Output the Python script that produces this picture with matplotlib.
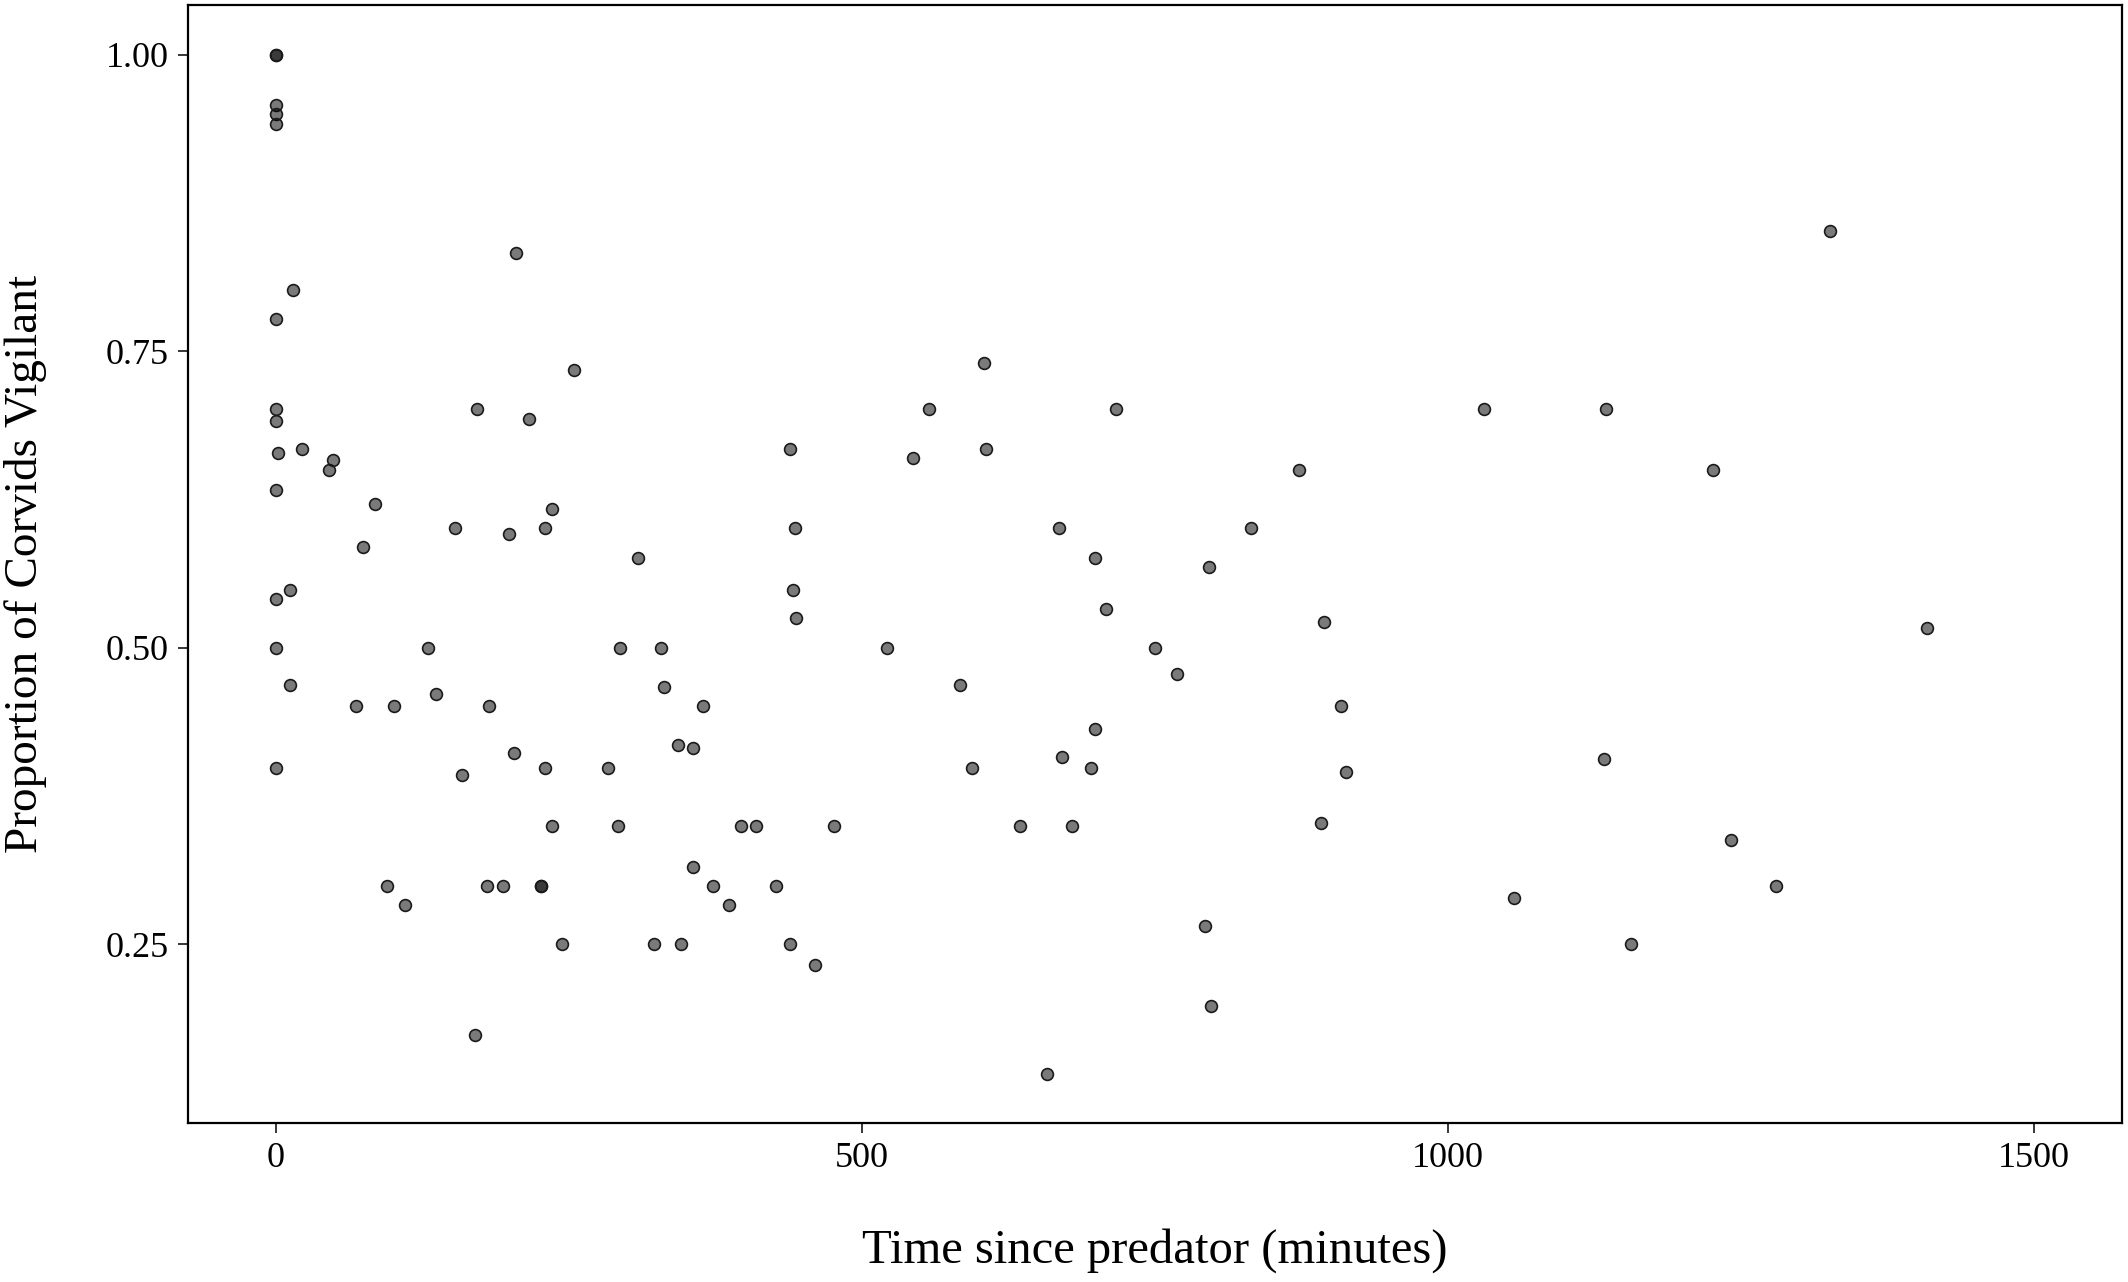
import matplotlib
matplotlib.use("Agg")
import matplotlib.pyplot as plt

# minutes since predator and proportion of corvids vigilant
time_min = [
    0, 0, 0, 0, 0, 0, 0, 0, 2, 0, 0, 0, 0,
    15, 12, 12, 22, 45, 49, 68, 74, 85, 95, 101, 110, 130, 137,
    153, 159, 170, 172, 180, 182, 194, 199, 203, 205, 216, 226, 226,
    230, 230, 236, 236, 244, 254, 283, 292, 294, 309, 323, 329, 331,
    343, 346, 356, 356, 364, 373, 387, 397, 410, 427, 439, 441, 443,
    444, 439, 460, 476, 521, 544, 557, 584, 594, 604, 606, 635, 658,
    668, 671, 679, 695, 699, 699, 708, 717, 750, 769, 793, 796, 798,
    832, 873, 892, 894, 909, 913, 1031, 1056, 1133, 1135, 1156, 1226,
    1241, 1280, 1326, 1409,
]
prop_vigilant = [
    1.00, 1.00, 0.958, 0.950, 0.942, 0.777, 0.701, 0.691, 0.664, 0.633, 0.541, 0.50, 0.399,
    0.802, 0.549, 0.469, 0.668, 0.650, 0.658, 0.451, 0.585, 0.621, 0.299, 0.451, 0.283, 0.50, 0.461,
    0.601, 0.393, 0.174, 0.701, 0.299, 0.451, 0.299, 0.596, 0.411, 0.833, 0.693, 0.299, 0.299,
    0.601, 0.399, 0.617, 0.350, 0.25, 0.734, 0.399, 0.350, 0.50, 0.576, 0.25, 0.50, 0.467,
    0.418, 0.25, 0.416, 0.315, 0.451, 0.299, 0.283, 0.350, 0.350, 0.299, 0.668, 0.549, 0.601,
    0.525, 0.25, 0.233, 0.350, 0.50, 0.660, 0.701, 0.469, 0.399, 0.740, 0.668, 0.350, 0.141,
    0.601, 0.408, 0.350, 0.399, 0.576, 0.432, 0.533, 0.701, 0.50, 0.478, 0.266, 0.568, 0.198,
    0.601, 0.650, 0.352, 0.522, 0.451, 0.395, 0.701, 0.289, 0.406, 0.701, 0.25, 0.650,
    0.338, 0.299, 0.851, 0.517,
]

x_ticks = [0, 500, 1000, 1500]
y_ticks = [0.25, 0.50, 0.75, 1.00]

serif = "Liberation Serif"

fig = plt.figure(figsize=(21.28, 12.82), dpi=100)
ax = fig.add_axes([0.0883, 0.124, 0.9089, 0.8722])

ax.scatter(time_min, prop_vigilant, s=72, facecolors=(0, 0, 0, 0.52),
           edgecolors="#1a1a1a", linewidths=1.2, zorder=3)

ax.set_xlim(-75, 1575)
ax.set_ylim(0.0995, 1.042)
ax.set_xticks(x_ticks)
ax.set_yticks(y_ticks)
ax.set_yticklabels([f"{v:.2f}" for v in y_ticks])

for lab in ax.get_xticklabels() + ax.get_yticklabels():
    lab.set_fontfamily(serif)
    lab.set_fontsize(26)
ax.tick_params(length=7, width=1.1, pad=7, color="black")

for sp in ax.spines.values():
    sp.set_linewidth(1.6)
    sp.set_color("black")

ax.set_xlabel("Time since predator (minutes)", fontfamily=serif, fontsize=35, labelpad=38)
ax.set_ylabel("Proportion of Corvids Vigilant", fontfamily=serif, fontsize=34, labelpad=42)

fig.savefig("out.png", dpi=100, facecolor="white")
